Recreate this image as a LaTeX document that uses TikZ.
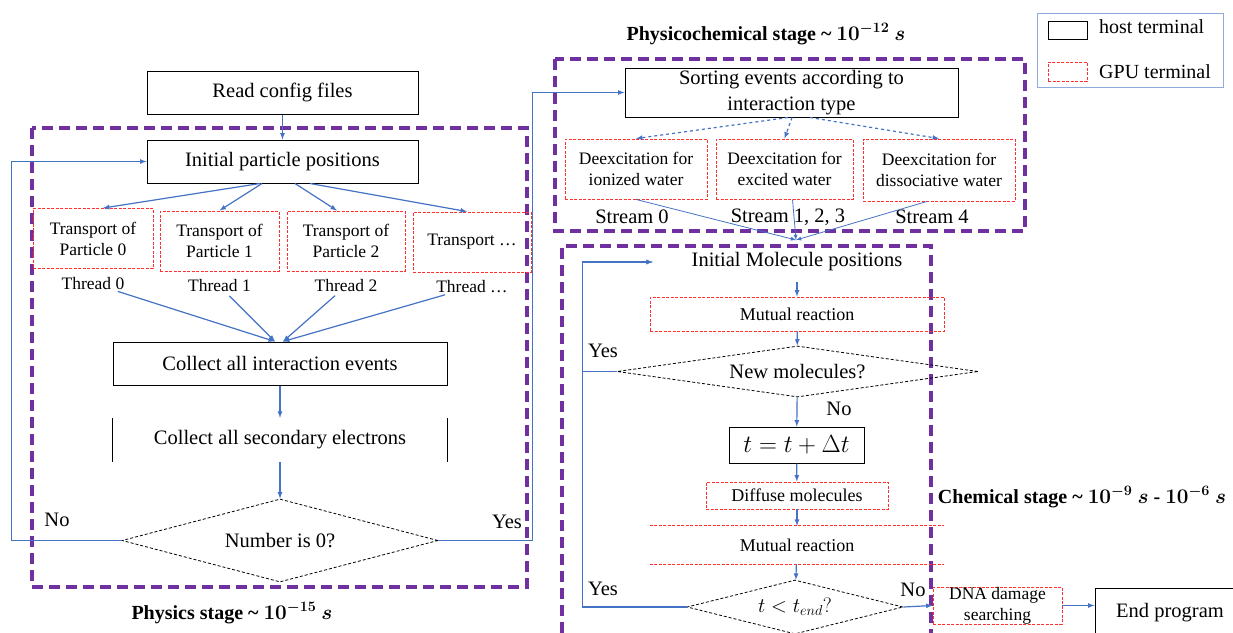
\documentclass[tikz,border=0pt]{standalone}
\usepackage{fontspec}
\setmainfont{Liberation Serif}
\usepackage{amsmath}
\usepackage{bm}
\usetikzlibrary{arrows,shapes.geometric}
\definecolor{stagepurple}{HTML}{7030A0}
\definecolor{flowblue}{HTML}{4472C4}
\definecolor{gpured}{HTML}{FF3030}
\definecolor{legendframe}{HTML}{8FAADC}
\tikzset{
	host/.style={draw, line width=1pt, align=center, inner sep=0pt, font=\fontsize{20.5}{26}\selectfont},
	gpu/.style={draw=gpured, line width=0.9pt, dash pattern=on 3pt off 1.5pt, align=center, inner sep=0pt, font=\fontsize{17.5}{21}\selectfont},
	gpuline/.style={draw=gpured, line width=0.9pt, dash pattern=on 3pt off 1.5pt},
	plain/.style={align=center, inner sep=0pt, font=\fontsize{20.5}{24}\selectfont},
	small/.style={align=center, inner sep=0pt, font=\fontsize{17.5}{21}\selectfont},
	stagebox/.style={draw=stagepurple, line width=3.5pt, dash pattern=on 11pt off 6pt},
	stagelabel/.style={inner sep=0pt, font=\bfseries\fontsize{20}{24}\selectfont},
	flow/.style={-latex, draw=flowblue, line width=1.2pt},
	decision/.style={diamond, draw, line width=0.8pt, dash pattern=on 3pt off 2pt, inner sep=0pt, font=\fontsize{20.5}{24}\selectfont},
}

\begin{document}
\begin{tikzpicture}[x=1pt, y=-1pt]
	\useasboundingbox (0,0) rectangle (1233,632);
	\clip (0,0) rectangle (1233,632);

	\draw[stagebox] (32,128) rectangle (527,587);
	\node[host, minimum width=271pt, minimum height=43pt] (config) at (282.5,92.5) {Read config files};
	\node[host, minimum width=271pt, minimum height=43pt] (initpart) at (282.5,161.5) {Initial particle positions};
	\foreach \i/\x/\y/\w in {0/93/238.5/120, 1/219.5/241/119, 2/346/241/118}{
		\node[gpu, minimum width=\w pt, minimum height=60pt] (tp\i) at (\x,\y) {Transport of\\Particle \i};
		\node[small] (th\i) at (\x,\y+45) {Thread \i};
	}
	\node[gpu, minimum width=118pt, minimum height=60pt] (tp3) at (472,242) {Transport \dots};
	\node[small] (th3) at (472,287) {Thread \dots};
	\node[host, minimum width=334pt, minimum height=43pt] (collect) at (280,363.5) {Collect all interaction events};
	\node[plain, minimum width=334pt, minimum height=44pt] (second) at (280,440) {Collect all secondary electrons};
	\draw[line width=1pt] (second.north west) -- (second.south west) (second.north east) -- (second.south east);
	\node[decision, aspect=3.8, minimum width=316pt, minimum height=83pt] (zero) at (280,540.5) {Number is 0?};
	\node[plain] (physno) at (57,520) {No};
	\node[plain] (physyes) at (507,522) {Yes};
	\node[stagelabel] (physlabel) at (232,613) {Physics stage \textasciitilde{} $\bm{10^{-15}\ s}$};

	\draw[flow] (config) -- (initpart);
	\draw[flow] ([xshift=-22.5pt]initpart.south) -- ([xshift=10pt]tp0.north);
	\draw[flow] ([xshift=-20.5pt]initpart.south) -- (tp1.north);
	\draw[flow] ([xshift=12.5pt]initpart.south) -- ([xshift=-9pt]tp2.north);
	\draw[flow] ([xshift=27.5pt]initpart.south) -- ([xshift=-5pt]tp3.north);
	\draw[flow, shorten <=5pt] (th0) -- ([xshift=-5pt]collect.north);
	\draw[flow, shorten <=5pt] (th1) -- ([xshift=-5pt]collect.north);
	\draw[flow, shorten <=5pt] (th2) -- ([xshift=3pt]collect.north);
	\draw[flow, shorten <=5pt] (th3) -- ([xshift=3pt]collect.north);
	\draw[flow] (collect) -- (second);
	\draw[flow] (second) -- (zero);
	\draw[flow] (zero.west) -- ++(-110,0) |- (initpart.west);

	\node[stagelabel] (pclabel) at (766,34) {Physicochemical stage \textasciitilde{} $\bm{10^{-12}\ s}$};
	\draw[stagebox] (555,59) rectangle (1025,231);
	\node[host, minimum width=333pt, minimum height=49pt] (sorting) at (791.5,92.5) {Sorting events according to\\interaction type};
	\node[gpu, minimum width=142pt, minimum height=60pt] (ion) at (636,169) {Deexcitation for\\ionized water};
	\node[gpu, minimum width=137pt, minimum height=60pt] (exc) at (784.5,169) {Deexcitation for\\excited water};
	\node[gpu, minimum width=152pt, minimum height=62pt] (dis) at (939,170) {Deexcitation for\\dissociative water};
	\node[plain] (st0) at (632,217) {Stream 0};
	\node[plain] (st1) at (788,217) {Stream 1, 2, 3};
	\node[plain] (st4) at (932,217) {Stream 4};
	\coordinate (chemin) at (796,240);

	\draw[flow] (zero.east) -- ++(94,0) |- (sorting.west);
	\draw[flow, dashed] ([xshift=-3.5pt]sorting.south) -- (ion.north);
	\draw[flow, dashed] ([xshift=0.5pt]sorting.south) -- (exc.north);
	\draw[flow, dashed] ([xshift=18.5pt]sorting.south) -- (dis.north);
	\draw[flow, line width=0.8pt] (ion.south) -- (chemin);
	\draw[flow, line width=0.8pt] ([xshift=8pt]exc.south) -- (chemin);
	\draw[flow, line width=0.8pt] ([xshift=-12pt]dis.south) -- (chemin);

	\draw[stagebox] (562,650) |- (931,246) -- (931,650);
	\node[plain, minimum width=288pt, minimum height=40pt] (molinit) at (797,262) {Initial Molecule positions};
	\node[gpu, minimum width=294pt, minimum height=34pt, font=\fontsize{18}{21}\selectfont] (mutual1) at (797,314) {Mutual reaction};
	\node[decision, aspect=7, minimum width=361pt, minimum height=51pt] (newmol) at (797.5,371.5) {New molecules?};
	\node[plain] (molyes) at (603,351) {Yes};
	\node[plain] (molno) at (839,409) {No};
	\node[host, minimum width=135pt, minimum height=36pt, font=\fontsize{23}{26}\selectfont] (tstep) at (796.5,445) {$t = t + \Delta t$};
	\node[gpu, minimum width=182pt, minimum height=27pt, font=\fontsize{18}{21}\selectfont] (diffuse) at (797,495.5) {Diffuse molecules};
	\node[plain, minimum width=294pt, minimum height=38pt, font=\fontsize{18}{21}\selectfont] (mutual2) at (797,545) {Mutual reaction};
	\draw[gpuline] (mutual2.north west) -- (mutual2.north east) (mutual2.south west) -- (mutual2.south east);
	\node[decision, aspect=4, minimum width=216pt, minimum height=54pt] (tend) at (795,607) {$t < t_{end}?$};
	\node[plain] (endyes) at (603,589) {Yes};
	\node[plain] (endno) at (913,590) {No};
	\node[gpu, minimum width=129pt, minimum height=35pt] (dna) at (997.5,605.5) {DNA damage\\searching};
	\node[host, minimum width=150pt, minimum height=50pt] (endprog) at (1170,613) {End program};
	\node[stagelabel] (chemlabel) at (1082,497) {Chemical stage \textasciitilde{} $\bm{10^{-9}\ s}$ - $\bm{10^{-6}\ s}$};

	\draw[flow] (molinit) -- (mutual1);
	\draw[flow] (mutual1) -- (newmol);
	\draw[flow] (newmol.west) -- ++(-34.5,0) |- (molinit.west);
	\draw[flow] (newmol) -- (tstep);
	\draw[flow] (tstep) -- (diffuse);
	\draw[flow] (diffuse) -- (mutual2);
	\draw[flow] (mutual2) -- (tend);
	\draw[flow] (tend.west) -- ++(-104,0) |- (molinit.west);
	\draw[flow] (tend.east) -- (dna.west);
	\draw[flow] (dna.east) -- (endprog.west |- dna.east);

	\draw[legendframe, line width=0.8pt] (1037,13) rectangle (1223,87);
	\node[draw, line width=1pt, minimum width=39pt, minimum height=18pt] (hostkey) at (1067.5,30) {};
	\node[gpu, minimum width=39pt, minimum height=19pt] (gpukey) at (1067.5,71.5) {};
	\node[plain, anchor=west, font=\fontsize{20}{24}\selectfont] (hostlabel) at (1099,27) {host terminal};
	\node[plain, anchor=west, font=\fontsize{20}{24}\selectfont] (gpulabel) at (1099,72) {GPU terminal};
\end{tikzpicture}
\end{document}
